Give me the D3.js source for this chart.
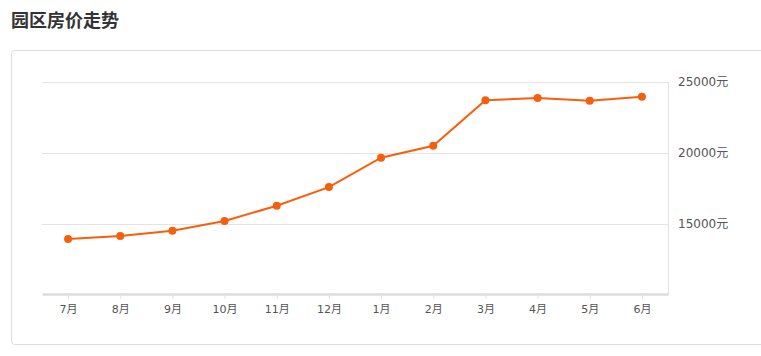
<!DOCTYPE html>
<html>
<head>
<meta charset="utf-8">
<script src="https://cdn.jsdelivr.net/npm/d3@7"></script>
<style>
  body { margin: 0; background: #fff; font-family: "Noto Sans CJK SC", "DejaVu Sans", sans-serif; }
  svg { display: block; }
</style>
</head>
<body>
<svg id="chart" width="761" height="356"></svg>
<script>
// 园区房价走势 (元/平米)
const months = ["7月", "8月", "9月", "10月", "11月", "12月", "1月", "2月", "3月", "4月", "5月", "6月"]
const prices = [13950, 14150, 14530, 15210, 16290, 17600, 19670, 20510, 23710, 23870, 23680, 23960]
const yTicks = [15000, 20000, 25000]

let svg = d3.select("#chart")
let labelFont = "\"DejaVu Sans\", \"Noto Sans CJK SC\", sans-serif"

svg.append("text")
    .attr("x", 11).attr("y", 27)
    .attr("font-size", 18).attr("font-weight", "bold")
    .attr("fill", "#333")
    .text("园区房价走势")

// outer box, its right side runs off the page
svg.append("rect")
    .attr("x", 11.5).attr("y", 50.5)
    .attr("width", 780).attr("height", 294)
    .attr("rx", 3)
    .attr("fill", "#fff").attr("stroke", "#ddd")

let plotL = 42, plotR = 668, plotT = 82, plotB = 295

let x = d3.scalePoint()
    .domain(months)
    .range([plotL, plotR])
    .padding(0.5)

let y = d3.scaleLinear()
    .domain([10000, 25000])
    .range([plotB, plotT])

// grid
svg.selectAll(".grid")
    .data(yTicks)
    .enter()
    .append("line")
        .attr("class", "grid")
        .attr("x1", plotL).attr("x2", plotR)
        .attr("y1", d => Math.round(y(d)) + 0.5)
        .attr("y2", d => Math.round(y(d)) + 0.5)
        .attr("stroke", "#e3e3e3")

svg.append("line")
    .attr("x1", plotR + 0.5).attr("x2", plotR + 0.5)
    .attr("y1", plotT).attr("y2", plotB)
    .attr("stroke", "#e3e3e3")

// y labels on the right
svg.selectAll(".ylab")
    .data(yTicks)
    .enter()
    .append("text")
        .attr("class", "ylab")
        .attr("x", 678)
        .attr("y", d => y(d) + 4)
        .attr("font-size", 12)
        .attr("font-family", labelFont)
        .attr("fill", "#555")
        .text(d => d + "元")

// x axis
let xAxis = svg.append("g")
    .attr("transform", `translate(0,${plotB - 1})`)
    .call(d3.axisBottom(x).tickSize(5).tickSizeOuter(0).tickPadding(6))
xAxis.select(".domain").attr("stroke", "#ddd").attr("stroke-width", 2.5)
xAxis.selectAll(".tick line").attr("stroke", "#e0e0e0")
xAxis.selectAll(".tick text")
    .attr("font-size", 11)
    .attr("fill", "#555")
    .attr("font-family", labelFont)

// line + dots
let color = "#f75f0c"
let line = d3.line()
    .x((d, i) => x(months[i]))
    .y(d => y(d))

svg.append("path")
    .datum(prices)
    .attr("d", line)
    .attr("fill", "none")
    .attr("stroke", color)
    .attr("stroke-width", 2)

svg.selectAll(".dot")
    .data(prices)
    .enter()
    .append("circle")
        .attr("class", "dot")
        .attr("cx", (d, i) => x(months[i]))
        .attr("cy", d => y(d))
        .attr("r", 4)
        .attr("fill", color)
</script>
</body>
</html>
